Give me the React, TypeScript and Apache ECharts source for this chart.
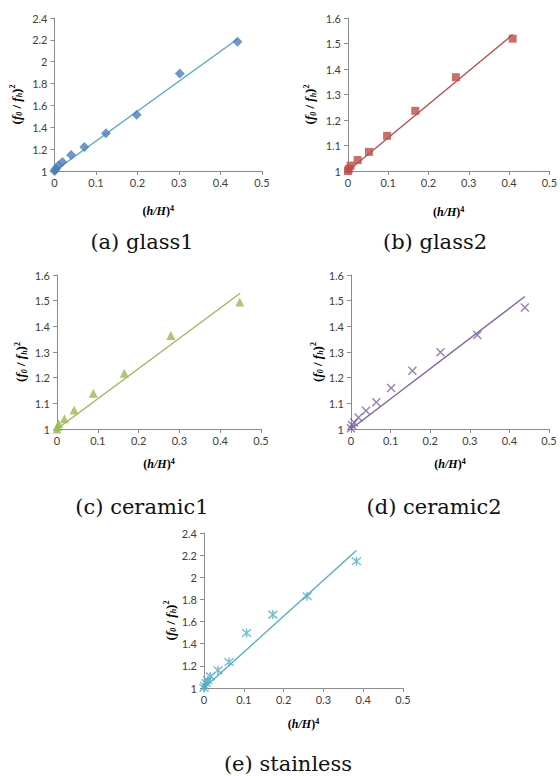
import React, { useEffect, useRef } from "react";
import * as echarts from "echarts";

// ---------- data ----------
const captions = ["(a) glass1", "(b) glass2", "(c) ceramic1", "(d) ceramic2", "(e) stainless"];

const glass1X = [0, 0.0016, 0.004, 0.0096, 0.019, 0.04, 0.072, 0.124, 0.198, 0.302, 0.441];
const glass1Y = [1.0, 1.009, 1.025, 1.05, 1.083, 1.147, 1.22, 1.346, 1.514, 1.893, 2.183];
const glass1Fit = [[0, 1.0], [0.441, 2.208]];

const glass2X = [0, 0.002, 0.0065, 0.024, 0.052, 0.097, 0.167, 0.268, 0.409];
const glass2Y = [1.0, 1.008, 1.021, 1.043, 1.075, 1.138, 1.236, 1.368, 1.519];
const glass2Fit = [[0, 1.0], [0.409, 1.535]];

const ceramic1X = [0, 0.002, 0.004, 0.018, 0.042, 0.089, 0.165, 0.279, 0.448];
const ceramic1Y = [1.0, 1.01, 1.02, 1.04, 1.074, 1.139, 1.217, 1.364, 1.495];
const ceramic1Fit = [[0, 1.0], [0.449, 1.529]];

const ceramic2X = [0, 0.0025, 0.008, 0.019, 0.038, 0.064, 0.1015, 0.155, 0.226, 0.319, 0.439];
const ceramic2Y = [1.003, 1.016, 1.025, 1.045, 1.071, 1.104, 1.16, 1.227, 1.299, 1.366, 1.473];
const ceramic2Fit = [[0, 1.0], [0.439, 1.516]];

const stainlessX = [0, 0.002, 0.005, 0.009, 0.016, 0.035, 0.063, 0.107, 0.173, 0.259, 0.383];
const stainlessY = [1.0, 1.02, 1.045, 1.07, 1.105, 1.16, 1.235, 1.497, 1.663, 1.828, 2.145];
const stainlessFit = [[0, 1.0], [0.383, 2.241]];

const xMin = 0;
const xMax = 0.5;
const xStep = 0.1;
const yMin = 1;
const yMaxes = [2.4, 1.6, 1.6, 1.6, 2.4];
const ySteps = [0.2, 0.1, 0.1, 0.1, 0.2];

// ---------- styles ----------
const panels = [
  { xs: glass1X, ys: glass1Y, fit: glass1Fit, symbol: "diamond", size: 10, color: "#4A7EBB", line: "#4BACC6", stroke: false },
  { xs: glass2X, ys: glass2Y, fit: glass2Fit, symbol: "rect", size: 8, color: "#BE4B48", line: "#BE4B48", stroke: false },
  { xs: ceramic1X, ys: ceramic1Y, fit: ceramic1Fit, symbol: "triangle", size: 9, color: "#98B954", line: "#98B954", stroke: false },
  { xs: ceramic2X, ys: ceramic2Y, fit: ceramic2Fit, symbol: "path://M0,0L10,10M10,0L0,10", size: 8, color: "#7D60A0", line: "#7D60A0", stroke: true },
  { xs: stainlessX, ys: stainlessY, fit: stainlessFit, symbol: "path://M0,0L10,10M10,0L0,10M5,-1L5,11", size: 9, color: "#4BACC6", line: "#4BACC6", stroke: true },
];

const grids = [
  { left: 54.5, top: 18, width: 207.5, height: 153 },
  { left: 348, top: 18, width: 207, height: 153 },
  { left: 57, top: 275, width: 204, height: 154 },
  { left: 351, top: 275, width: 198, height: 154 },
  { left: 204, top: 533, width: 199, height: 155 },
];
const yNameGaps = [31, 31, 29, 25, 25];
const xNameGaps = [33, 34, 28, 28, 29];
const captionPos = [
  [142, 242],
  [435, 242],
  [142, 507],
  [434, 507],
  [288, 764],
];

const labelFont = { fontFamily: "Lato", fontSize: 11, color: "#404040" };

function buildOption() {
  const xAxis: any[] = [];
  const yAxis: any[] = [];
  const series: any[] = [];
  panels.forEach((p, i) => {
    xAxis.push({
      type: "value",
      gridIndex: i,
      min: xMin,
      max: xMax,
      interval: xStep,
      splitLine: { show: false },
      axisLine: { show: true, onZero: false, lineStyle: { color: "#8C8C8C", width: 1 } },
      axisTick: { show: true, length: 4, lineStyle: { color: "#8C8C8C" } },
      axisLabel: { ...labelFont, margin: 6 },
      name: "({i|h/H}){p|4}",
      nameLocation: "middle",
      nameGap: xNameGaps[i],
      nameTextStyle: {
        fontFamily: "Liberation Serif",
        fontWeight: "bold",
        fontSize: 12,
        color: "#000",
        lineHeight: 13,
        rich: {
          i: { fontFamily: "Liberation Serif", fontWeight: "bold", fontStyle: "italic", fontSize: 12, lineHeight: 13, color: "#000" },
          p: { fontFamily: "Liberation Serif", fontWeight: "bold", fontSize: 8, lineHeight: 8, verticalAlign: "top", color: "#000" },
        },
      },
    });
    yAxis.push({
      type: "value",
      gridIndex: i,
      min: yMin,
      max: yMaxes[i],
      interval: ySteps[i],
      splitLine: { show: false },
      axisLine: { show: true, onZero: false, lineStyle: { color: "#8C8C8C", width: 1 } },
      axisTick: { show: true, length: 4, lineStyle: { color: "#8C8C8C" } },
      axisLabel: { ...labelFont, margin: 7 },
      name: "({f|f}{s|0} / {f|f}{s|h}){p|2}",
      nameLocation: "middle",
      nameGap: yNameGaps[i],
      nameTextStyle: {
        fontFamily: "Liberation Serif",
        fontWeight: "bold",
        fontSize: 13,
        color: "#000",
        lineHeight: 15,
        padding: [0, 20, 0, 0],
        rich: {
          f: { fontFamily: "Liberation Serif", fontWeight: "bold", fontStyle: "italic", fontSize: 13, lineHeight: 15, color: "#000" },
          s: { fontFamily: "Liberation Serif", fontWeight: "bold", fontStyle: "italic", fontSize: 8, lineHeight: 9, verticalAlign: "bottom", color: "#000" },
          p: { fontFamily: "Liberation Serif", fontWeight: "bold", fontSize: 8, lineHeight: 9, verticalAlign: "top", color: "#000" },
        },
      },
    });
    series.push({
      type: "line",
      xAxisIndex: i,
      yAxisIndex: i,
      data: p.fit,
      showSymbol: false,
      symbol: "none",
      lineStyle: { color: p.line, width: 1.3 },
      z: 2,
      silent: true,
    });
    series.push({
      type: "scatter",
      xAxisIndex: i,
      yAxisIndex: i,
      data: p.xs.map((x, k) => [x, p.ys[k]]),
      symbol: p.symbol,
      symbolSize: p.size,
      itemStyle: p.stroke
        ? { color: "transparent", borderColor: p.color, borderWidth: 1.4 }
        : { color: p.color, borderWidth: 0 },
      z: 3,
      silent: true,
    });
  });

  const graphic = captions.map((t, i) => ({
    type: "text",
    x: captionPos[i][0],
    y: captionPos[i][1],
    style: {
      text: t,
      font: "21px 'DejaVu Serif'",
      fill: "#111",
      textAlign: "center",
      textVerticalAlign: "middle",
      align: "center",
      verticalAlign: "middle",
    },
  }));

  return {
    animation: false,
    backgroundColor: "#ffffff",
    grid: grids.map((g) => ({ ...g, containLabel: false })),
    xAxis,
    yAxis,
    series,
    graphic,
  };
}

export default function App() {
  const ref = useRef<HTMLDivElement>(null);
  useEffect(() => {
    if (!ref.current) return;
    const chart = echarts.init(ref.current, undefined, { renderer: "svg" });
    chart.setOption(buildOption() as any);
    return () => chart.dispose();
  }, []);
  return (
    <div
      ref={ref}
      style={{ position: "absolute", left: 0, top: 0, width: 560, height: 776, background: "#fff" }}
    />
  );
}
